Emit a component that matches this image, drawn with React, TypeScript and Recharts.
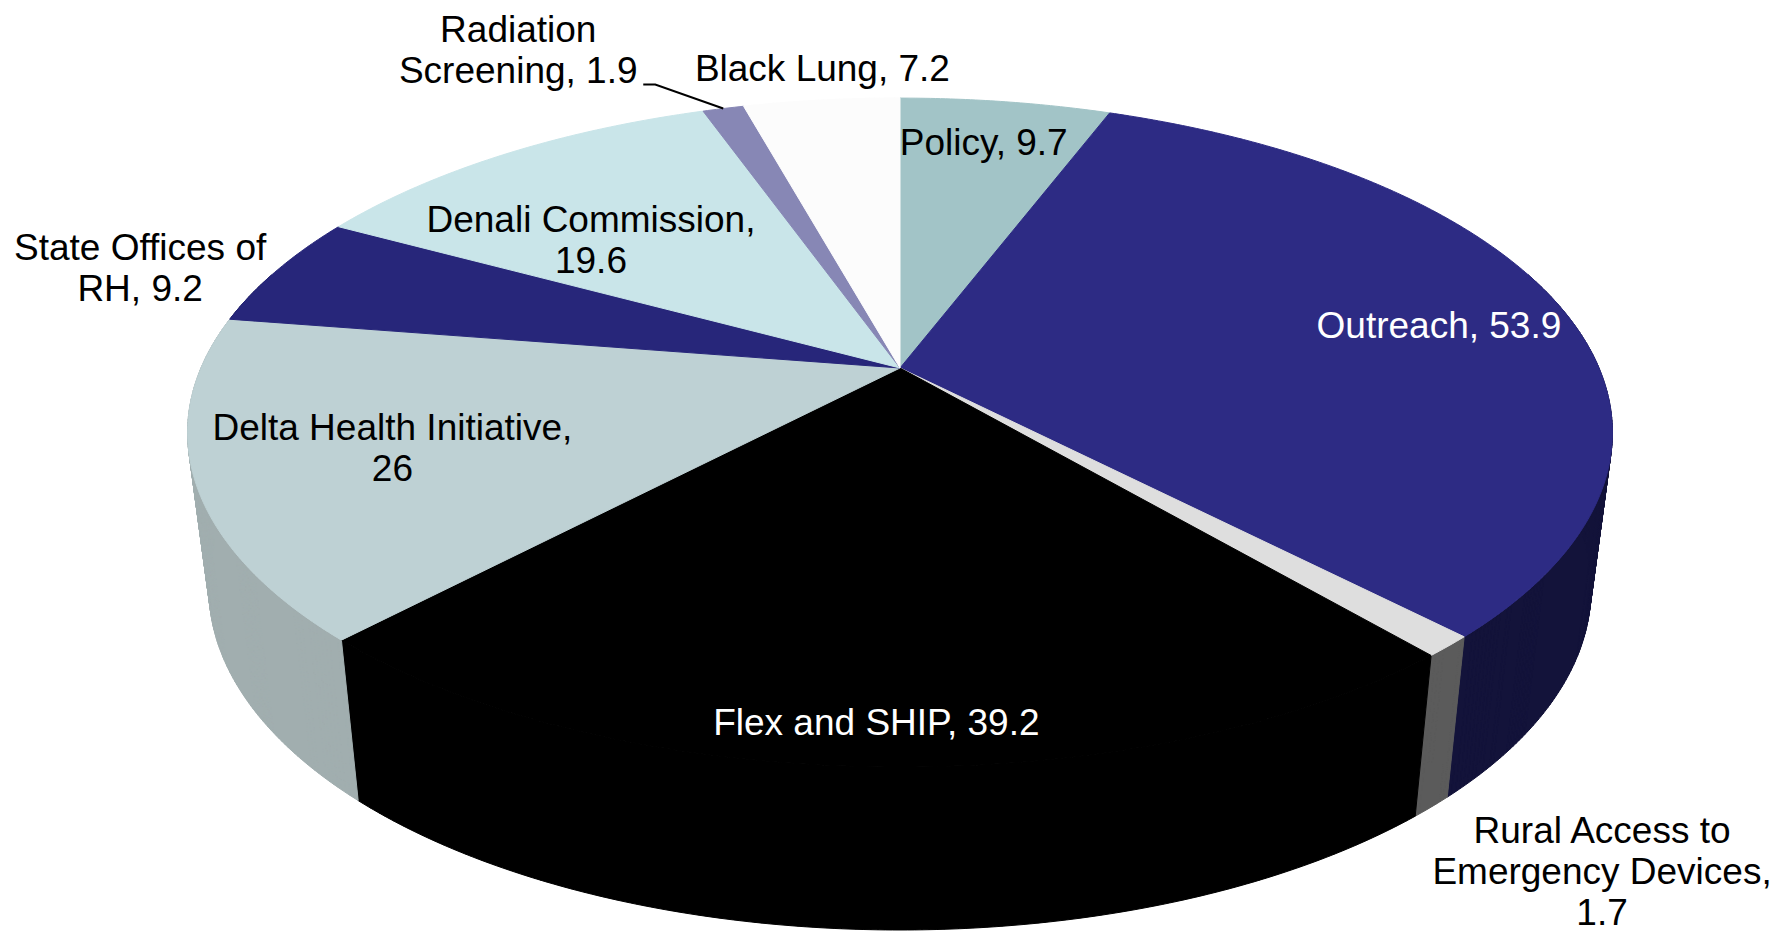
import type { ReactElement } from 'react'
import { PieChart, Pie, Cell } from 'recharts'

// Program budget slices, clockwise from 12 o'clock
const categories = [
  'Policy',
  'Outreach',
  'Rural Access to Emergency Devices',
  'Flex and SHIP',
  'Delta Health Initiative',
  'State Offices of RH',
  'Denali Commission',
  'Radiation Screening',
  'Black Lung',
]
const values = [9.7, 53.9, 1.7, 39.2, 26, 9.2, 19.6, 1.9, 7.2]

const data = categories.map((name, i) => ({ name, value: values[i] }))

const TOP_COLORS = ['#A2C4C7', '#2D2B84', '#DEDEDE', '#000000', '#BED1D4', '#27267A', '#C9E5E9', '#8787B5', '#FCFCFC']
const SIDE_COLORS = ['#7F9C9F', '#13133A', '#5B5B5B', '#000000', '#A1AEAF', '#15154A', '#9FB8BC', '#6A6A92', '#CFCFCF']
const LABEL_COLORS = ['#000', '#fff', '#000', '#fff', '#000', '#000', '#000', '#000', '#000']
// words per label line
const LABEL_WORDS = [[2], [2], [3, 2, 1], [4], [3, 1], [3, 2], [2, 1], [1, 2], [3]]
// label centre, relative to the rim point at the slice's mid angle
const LABEL_OFFSETS = [[-22, 40], [-120, 20], [154, 225], [-1, -45], [198, -31], [-137, -3], [86, 85], [-205, -59], [1, -32]]
const LEADER_INDEX = 7

// 3D look: perspective tilt of the top face and depth of the wall
const TILT = 0.193
const RX = 699
const RY = 322
const DEPTH = 155
const BOTTOM_SX = 0.97
const BOTTOM_SY = 1.02
const FONT = 'Liberation Sans, Arial, sans-serif'

type Pt = [number, number]

function project(cx: number, cy: number, angle: number, r = 1): Pt {
  const a = (angle * Math.PI) / 180
  const u = r * Math.cos(a)
  const v = -r * Math.sin(a)
  const w = 1 - TILT * v
  return [cx + (RX * u) / w, cy + (RY * v) / w]
}

function lower(cx: number, cy: number, p: Pt): Pt {
  return [cx + BOTTOM_SX * (p[0] - cx), cy + BOTTOM_SY * (p[1] - cy) + DEPTH]
}

function arcAngles(start: number, end: number): number[] {
  const n = Math.max(2, Math.ceil(Math.abs(end - start) / 0.5))
  return Array.from({ length: n + 1 }, (_, i) => start + ((end - start) * i) / n)
}

const TopFace = (props: any) => {
  const { cx, cy, startAngle, endAngle, fill } = props
  const pts = arcAngles(startAngle, endAngle).map((a) => project(cx, cy, a))
  const d = `M${cx},${cy}` + pts.map((p) => `L${p[0].toFixed(2)},${p[1].toFixed(2)}`).join('') + 'Z'
  return <path d={d} fill={fill} stroke={fill} strokeWidth={1} />
}

const SideFace = (props: any) => {
  const { cx, cy, startAngle, endAngle, fill } = props
  const angles = arcAngles(startAngle, endAngle)
  let d = ''
  for (let i = 0; i < angles.length - 1; i++) {
    const a0 = angles[i]
    const a1 = angles[i + 1]
    const v0 = -Math.sin((a0 * Math.PI) / 180)
    const v1 = -Math.sin((a1 * Math.PI) / 180)
    if (Math.max(v0, v1) < -0.3) continue
    const t0 = project(cx, cy, a0)
    const t1 = project(cx, cy, a1)
    let quad: Pt[] = [t0, t1, lower(cx, cy, t1), lower(cx, cy, t0)]
    let area = 0
    for (let k = 0; k < 4; k++) {
      const p = quad[k]
      const q = quad[(k + 1) % 4]
      area += p[0] * q[1] - q[0] * p[1]
    }
    if (area < 0) quad = quad.reverse()
    d += 'M' + quad.map((p) => `${p[0].toFixed(2)},${p[1].toFixed(2)}`).join('L') + 'Z'
  }
  if (!d) return <g />
  return <path d={d} fill={fill} stroke={fill} strokeWidth={1} />
}

function wrapLabel(text: string, counts: number[]): string[] {
  const words = text.split(' ')
  const lines: string[] = []
  let at = 0
  counts.forEach((c) => {
    lines.push(words.slice(at, at + c).join(' '))
    at += c
  })
  return lines
}

const renderLabel = (props: any) => {
  const { cx, cy, midAngle, index } = props
  const rim = project(cx, cy, midAngle)
  const [dx, dy] = LABEL_OFFSETS[index]
  const lx = rim[0] + dx
  const ly = rim[1] + dy
  const lines = wrapLabel(`${categories[index]}, ${values[index]}`, LABEL_WORDS[index])
  const n = lines.length
  return (
    <g key={`label-${index}`}>
      {index === LEADER_INDEX && (
        <polyline
          points={`${rim[0]},${rim[1]} ${rim[0] - 68},${rim[1] - 24} ${rim[0] - 80},${rim[1] - 24}`}
          fill="none"
          stroke="#000"
          strokeWidth={2}
        />
      )}
      <text textAnchor="middle" fill={LABEL_COLORS[index]} fontSize={37} fontFamily={FONT}>
        {lines.map((line, i) => (
          <tspan key={i} x={lx} y={ly + (i - (n - 1) / 2) * 41 + 13}>
            {line}
          </tspan>
        ))}
      </text>
    </g>
  )
}

export default function App(): ReactElement {
  return (
    <div style={{ position: 'absolute', left: 0, top: 0, background: '#fff' }}>
      <PieChart width={1777} height={934} margin={{ top: 0, right: 0, bottom: 0, left: 0 }}>
        {/* outer walls */}
        <Pie
          data={data}
          dataKey="value"
          nameKey="name"
          cx={900}
          cy={368}
          outerRadius={300}
          startAngle={90}
          endAngle={-270}
          stroke="none"
          shape={SideFace}
          isAnimationActive={false}
        >
          {data.map((_, i) => (
            <Cell key={`side-${i}`} fill={SIDE_COLORS[i]} />
          ))}
        </Pie>
        {/* top faces + labels */}
        <Pie
          data={data}
          dataKey="value"
          nameKey="name"
          cx={900}
          cy={368}
          outerRadius={300}
          startAngle={90}
          endAngle={-270}
          stroke="none"
          shape={TopFace}
          label={renderLabel}
          labelLine={false}
          isAnimationActive={false}
        >
          {data.map((_, i) => (
            <Cell key={`top-${i}`} fill={TOP_COLORS[i]} />
          ))}
        </Pie>
      </PieChart>
    </div>
  )
}
